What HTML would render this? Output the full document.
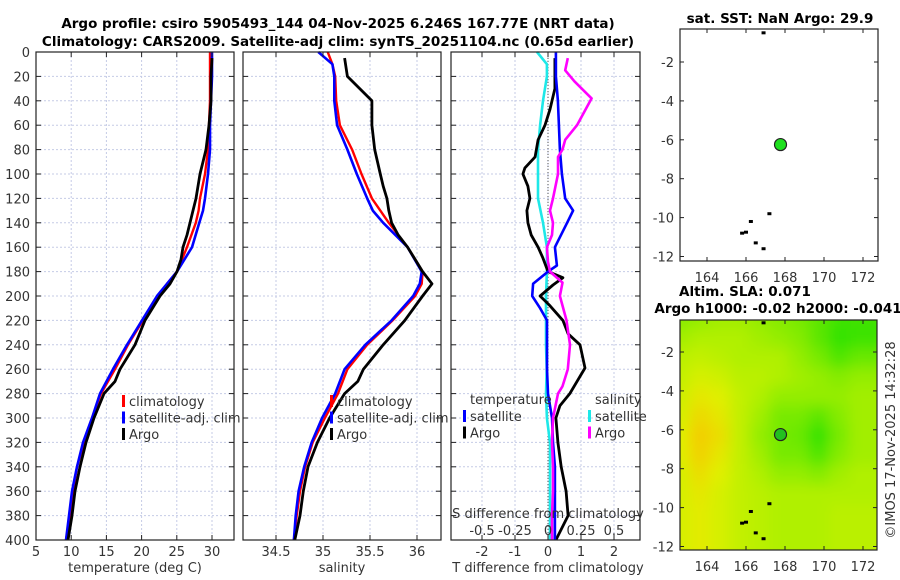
<!DOCTYPE html>
<html><head><meta charset="utf-8">
<style>
html,body{margin:0;padding:0;background:#fff;}
svg{display:block;font-family:"DejaVu Sans","Liberation Sans",sans-serif;}
.t{font-size:13px;fill:#333;}
.b{font-size:13.5px;font-weight:bold;fill:#000;}
</style></head>
<body>
<svg id="c" width="900" height="580" viewBox="0 0 900 580" xmlns="http://www.w3.org/2000/svg">
<rect width="900" height="580" fill="#fff"/>
<text class="b" x="338" y="28" text-anchor="middle">Argo profile: csiro 5905493_144 04-Nov-2025 6.246S 167.77E (NRT data)</text>
<text class="b" x="338" y="46" text-anchor="middle">Climatology: CARS2009. Satellite-adj clim: synTS_20251104.nc (0.65d earlier)</text>
<text class="b" x="780" y="23" text-anchor="middle">sat. SST: NaN Argo: 29.9</text>
<text class="b" x="745" y="296" text-anchor="middle">Altim. SLA: 0.071</text>
<text class="b" x="778" y="313" text-anchor="middle">Argo h1000: -0.02 h2000: -0.041</text>
<text class="t" transform="translate(895,440) rotate(-90)" text-anchor="middle">©IMOS 17-Nov-2025 14:32:28</text>
<g id="g"></g>
</svg>
<script>
// ---- data ----
const depthClim = [0,10,20,40,60,80,100,120,130,140,160,180,190,200,220,240,260,280,300,320,340,360,380,400];
const tempClim  = [29.72,29.72,29.72,29.72,29.57,29.43,29.0,28.30,28.1,27.7,26.45,25.03,23.61,22.33,20.20,18.07,16.22,14.23,12.95,11.82,10.82,10.26,9.83,9.26];
const tempSat   = [30.0,30.0,30.0,29.86,29.72,29.72,29.43,29.0,28.72,28.2,27.16,25.03,23.61,22.19,20.06,17.93,15.94,14.09,12.95,11.68,10.82,10.11,9.69,9.26];
const depthArgo = [5,20,40,60,80,90,100,110,120,130,140,150,160,170,180,190,200,220,240,260,270,280,300,320,340,360,380,400];
const tempArgo  = [30.0,29.86,29.86,29.57,29.15,28.72,28.30,28.01,27.73,27.30,26.88,26.45,25.88,25.60,25.03,24.03,22.61,20.48,19.06,16.93,16.22,14.66,13.24,12.10,11.25,10.54,10.11,9.55];
const salClim   = [35.05,35.10,35.13,35.14,35.18,35.31,35.41,35.52,35.61,35.70,35.90,36.06,36.05,35.98,35.74,35.47,35.26,35.16,35.02,34.89,34.81,34.755,34.72,34.69];
const salSat    = [34.95,35.10,35.12,35.12,35.15,35.26,35.36,35.47,35.53,35.64,35.90,36.05,36.03,35.96,35.73,35.45,35.23,35.13,34.99,34.88,34.80,34.74,34.71,34.69];
const salArgo   = [35.23,35.26,35.52,35.52,35.55,35.58,35.61,35.64,35.68,35.70,35.73,35.80,35.90,35.98,36.06,36.16,36.06,35.87,35.64,35.43,35.37,35.23,35.07,34.94,34.84,34.79,34.755,34.70];
const depthDT   = [5,30,47,60,72,86,95,100,110,120,130,140,150,160,169,180,185,191,200,208,220,231,240,259,280,290,300,320,340,360,380,400];
const dTArgo    = [0.21,0.21,0.06,-0.09,-0.30,-0.39,-0.70,-0.76,-0.61,-0.55,-0.64,-0.61,-0.51,-0.30,-0.15,0.0,0.45,0.15,-0.24,0.06,0.45,0.61,0.97,1.12,0.66,0.36,0.24,0.30,0.40,0.55,0.61,0.24];
const depthDTs  = [0,20,40,60,80,100,120,130,140,160,175,180,190,200,210,220,240,260,280,300,320,340,360,380,400];
const dTSat     = [0.24,0.24,0.30,0.33,0.36,0.42,0.52,0.76,0.58,0.21,0.27,0.0,-0.45,-0.48,-0.24,-0.03,-0.03,-0.03,0.0,0.12,0.15,0.21,0.21,0.21,0.21];
const depthDS   = [0,10,20,40,60,80,100,120,140,160,180,200,220,240,260,280,300,320,340,360,380,400];
const dSSat     = [-0.083,-0.008,-0.008,-0.038,-0.06,-0.076,-0.076,-0.076,-0.038,-0.008,-0.008,-0.015,-0.015,-0.015,-0.01,-0.015,-0.008,0.015,0.015,0.015,0.015,0.015];
const depthDSa  = [5,15,24,38,60,72,80,86,100,112,120,130,140,150,160,172,180,189,200,220,240,260,274,280,300,320,340,360,380,400];
const dSArgo    = [0.15,0.13,0.20,0.33,0.22,0.13,0.11,0.076,0.076,0.053,0.038,0.015,0.038,0.03,-0.008,0.0,0.015,0.11,0.09,0.14,0.167,0.15,0.11,0.076,0.038,0.03,0.038,0.038,0.03,0.03];
const depthTicks = [0,20,40,60,80,100,120,140,160,180,200,220,240,260,280,300,320,340,360,380,400];
const tempTicks = [5,10,15,20,25,30];
const salTicks = [34.5,35,35.5,36];
const dTTicks = [-2,-1,0,1,2];
const dSTicks = [-0.5,-0.25,0,0.25,0.5];
const latTicks = [-2,-4,-6,-8,-10,-12];
const lonTicks = [164,166,168,170,172];
const argoLon = 167.77, argoLat = -6.246;
const slaGrid = [
[0.35,0.40,0.45,0.45,0.40,0.35,0.30,0.20,0.10,0.10],
[0.45,0.50,0.50,0.50,0.45,0.40,0.35,0.20,0.05,0.10],
[0.55,0.60,0.55,0.50,0.50,0.50,0.40,0.30,0.15,0.25],
[0.60,0.70,0.65,0.55,0.55,0.50,0.45,0.40,0.35,0.40],
[0.65,0.80,0.75,0.60,0.50,0.40,0.40,0.40,0.40,0.45],
[0.70,0.88,0.80,0.60,0.45,0.30,0.30,0.20,0.35,0.45],
[0.75,0.95,0.85,0.60,0.40,0.30,0.25,0.05,0.30,0.45],
[0.75,0.92,0.80,0.60,0.45,0.30,0.30,0.15,0.35,0.45],
[0.70,0.85,0.75,0.60,0.50,0.40,0.40,0.35,0.45,0.50],
[0.70,0.80,0.70,0.60,0.55,0.50,0.50,0.50,0.50,0.50],
[0.70,0.78,0.70,0.60,0.55,0.50,0.50,0.50,0.55,0.55],
[0.70,0.78,0.70,0.60,0.55,0.50,0.50,0.50,0.55,0.55]];
const islandLon = [166.9,167.2,166.25,165.8,166.0,166.5,166.9];
const islandLat = [-0.5,-9.8,-10.2,-10.8,-10.75,-11.3,-11.6];

// ---- drawing ----
const NS='http://www.w3.org/2000/svg';
const G=document.getElementById('g');
function mk(tag,at,parent){const e=document.createElementNS(NS,tag);for(const k in at)e.setAttribute(k,at[k]);(parent||G).appendChild(e);return e;}
const yTop=52, yBot=540;
const yD=d=>yTop+(yBot-yTop)*d/400;
const xT=t=>36+7.04*(t-5);
const xS=s=>276+94*(s-34.5);
const xDT=v=>548+33*v;
const xDS=v=>548+132*v;
const P1={x0:36,x1:234}, P2={x0:243,x1:441}, P3={x0:451,x1:640};

function grid(P,xs,name){
  const g=mk('g',{});
  
  
  depthTicks.forEach(d=>mk('line',{x1:P.x0,x2:P.x1,y1:yD(d),y2:yD(d),stroke:'#c5cbe6','stroke-width':1,'stroke-dasharray':'2,2'},g));
  xs.forEach(x=>mk('line',{x1:x,x2:x,y1:yTop,y2:yBot,stroke:'#c5cbe6','stroke-width':1,'stroke-dasharray':'2,2'},g));
}
function frame(P,xs,name){
  const g=mk('g',{});
  
  
  mk('rect',{x:P.x0,y:yTop,width:P.x1-P.x0,height:yBot-yTop,fill:'none',stroke:'#222','stroke-width':1.2},g);
  depthTicks.forEach(d=>{mk('line',{x1:P.x0,x2:P.x0+5,y1:yD(d),y2:yD(d),stroke:'#222'},g);mk('line',{x1:P.x1-5,x2:P.x1,y1:yD(d),y2:yD(d),stroke:'#222'},g);});
  xs.forEach(x=>{mk('line',{x1:x,x2:x,y1:yBot-5,y2:yBot,stroke:'#222'},g);mk('line',{x1:x,x2:x,y1:yTop,y2:yTop+5,stroke:'#222'},g);});
}
function line(xs,ys,color,name,w){
  const pts=xs.map((v,i)=>v.toFixed(1)+','+ys[i].toFixed(1)).join(' ');
  const e=mk('polyline',{points:pts,fill:'none',stroke:color,'stroke-width':w||2.6,'stroke-linejoin':'round'});
  
  
}
function txt(s,x,y,anchor,name,cls){
  const e=mk('text',{x:x,y:y,'text-anchor':anchor||'start',class:cls||'t'});
  e.textContent=s;
  
  
  return e;
}
function legend(x,y,items,name){
  items.forEach((it,i)=>{
    const r=mk('rect',{x:x,y:y+i*16.5-11,width:3,height:12,fill:it[1]});
    
    
    txt(it[0],x+7,y+i*16.5,'start',name+'-label-'+i);
  });
}

// panel 1
grid(P1,tempTicks.map(xT),'temperature');
line(tempClim.map(xT),depthClim.map(yD),'#f00','climatology-temperature-line',2.4);
line(tempSat.map(xT),depthClim.map(yD),'#00f','satellite-temperature-line',2.6);
line(tempArgo.map(xT),depthArgo.map(yD),'#000','argo-temperature-line',2.8);
frame(P1,tempTicks.map(xT),'temperature');
depthTicks.forEach(d=>txt(String(d),30,yD(d)+5,'end','depth-tick-label'));
tempTicks.forEach(t=>txt(String(t),xT(t),556,'middle','temperature-tick-label'));
txt('temperature (deg C)',135,572,'middle','temperature-axis-title');
legend(122,406,[['climatology','#f00'],['satellite-adj. clim','#00f'],['Argo','#000']],'temperature-legend');

// panel 2
grid(P2,salTicks.map(xS),'salinity');
line(salClim.map(xS),depthClim.map(yD),'#f00','climatology-salinity-line',2.4);
line(salSat.map(xS),depthClim.map(yD),'#00f','satellite-salinity-line',2.6);
line(salArgo.map(xS),depthArgo.map(yD),'#000','argo-salinity-line',2.8);
frame(P2,salTicks.map(xS),'salinity');
salTicks.forEach(s=>txt(String(s),xS(s),556,'middle','salinity-tick-label'));
txt('salinity',342,572,'middle','salinity-axis-title');
legend(330,406,[['climatology','#f00'],['satellite-adj. clim','#00f'],['Argo','#000']],'salinity-legend');

// panel 3
grid(P3,dTTicks.map(xDT),'difference');
const z=mk('line',{x1:548,x2:548,y1:yTop,y2:yBot,stroke:'#555','stroke-width':1,'stroke-dasharray':'1,2'});


line(dSSat.map(xDS),depthDS.map(yD),'#1ee8e8','salinity-satellite-diff-line',2.6);
line(dTArgo.map(xDT),depthDT.map(yD),'#000','temperature-argo-diff-line',2.8);
line(dTSat.map(xDT),depthDTs.map(yD),'#00f','temperature-satellite-diff-line',2.6);
line(dSArgo.map(xDS),depthDSa.map(yD),'#f0f','salinity-argo-diff-line',2.6);
frame(P3,dTTicks.map(xDT),'difference');
dTTicks.forEach(v=>txt(String(v),xDT(v),556,'middle','t-diff-tick-label'));
txt('T difference from climatology',548,572,'middle','t-diff-axis-title');
dSTicks.forEach(v=>txt(String(v),xDS(v),535,'middle','s-diff-tick-label'));
txt('S difference from climatology',548,518,'middle','s-diff-axis-title');
txt('temperature',470,404,'start','diff-legend-temperature-heading');
legend(463,421,[['satellite','#00f'],['Argo','#000']],'diff-legend-temperature');
txt('salinity',595,404,'start','diff-legend-salinity-heading');
legend(588,421,[['satellite','#1ee8e8'],['Argo','#f0f']],'diff-legend-salinity');

// maps
function mapPanel(M,name,heat){
  const xL=l=>707+19.5*(l-164);
  const yL=l=>M.yRef+19.45*(-2-l);
  const g=mk('g',{});
  
  
  if(heat){
    const cp=mk('clipPath',{id:'cp'+name},g);
    mk('rect',{x:M.x0,y:M.y0,width:M.x1-M.x0,height:M.y1-M.y0},cp);
    const f=mk('filter',{id:'bl'+name,x:'-10%',y:'-10%',width:'120%',height:'120%'},g);
    mk('feGaussianBlur',{stdDeviation:7},f);
    const outer=mk('g',{'clip-path':'url(#cp'+name+')'},g);
    mk('rect',{x:M.x0,y:M.y0,width:M.x1-M.x0,height:M.y1-M.y0,fill:'#a8ee10'},outer);
    const hg=mk('g',{filter:'url(#bl'+name+')'},outer);
    const col=v=>{const st=[[0,[34,224,0]],[0.5,[176,240,0]],[0.75,[224,240,0]],[1,[248,196,0]]];
      for(let i=1;i<st.length;i++){if(v<=st[i][0]){const a=st[i-1],b=st[i],t=(v-a[0])/(b[0]-a[0]);return 'rgb('+a[1].map((c,k)=>Math.round(c+(b[1][k]-c)*t)).join(',')+')';}}return 'rgb(248,196,0)';};
    slaGrid.forEach((row,r)=>row.forEach((v,c)=>{
      const lon0=162.6+c*1.02, lat0=-0.3-r*1.0;
      const cell=mk('rect',{x:xL(lon0)-10,y:yL(lat0)-10,width:19.9*1.02+20,height:19.45+20,fill:col(v)},hg);
      
      
    }));
  }
  islandLon.forEach((lo,i)=>{
    const d=mk('rect',{x:xL(lo)-2,y:yL(islandLat[i])-1.5,width:4,height:3,fill:'#000'},g);
    
    
  });
  const pt=mk('circle',{cx:xL(argoLon),cy:yL(argoLat),r:6,fill:heat?'#22c020':'#1ee01e',stroke:'#222','stroke-width':1.2},g);
  
  
  mk('rect',{x:M.x0,y:M.y0,width:M.x1-M.x0,height:M.y1-M.y0,fill:'none',stroke:'#222','stroke-width':1.2},g);
  latTicks.forEach(l=>{mk('line',{x1:M.x0,x2:M.x0+4,y1:yL(l),y2:yL(l),stroke:'#222'},g);mk('line',{x1:M.x1-4,x2:M.x1,y1:yL(l),y2:yL(l),stroke:'#222'},g);
    txt(String(l),M.x0-6,yL(l)+5,'end',name+'-lat-label');});
  lonTicks.forEach(l=>{mk('line',{x1:xL(l),x2:xL(l),y1:M.y1-4,y2:M.y1,stroke:'#222'},g);mk('line',{x1:xL(l),x2:xL(l),y1:M.y0,y2:M.y0+4,stroke:'#222'},g);
    txt(String(l),xL(l),M.y1+21,'middle',name+'-lon-label');});
}
mapPanel({x0:680,x1:878,y0:29,y1:261,yRef:62},'sst-map',false);
mapPanel({x0:680,x1:877,y0:320,y1:550,yRef:352},'sla-map',true);
</script>
</body></html>
